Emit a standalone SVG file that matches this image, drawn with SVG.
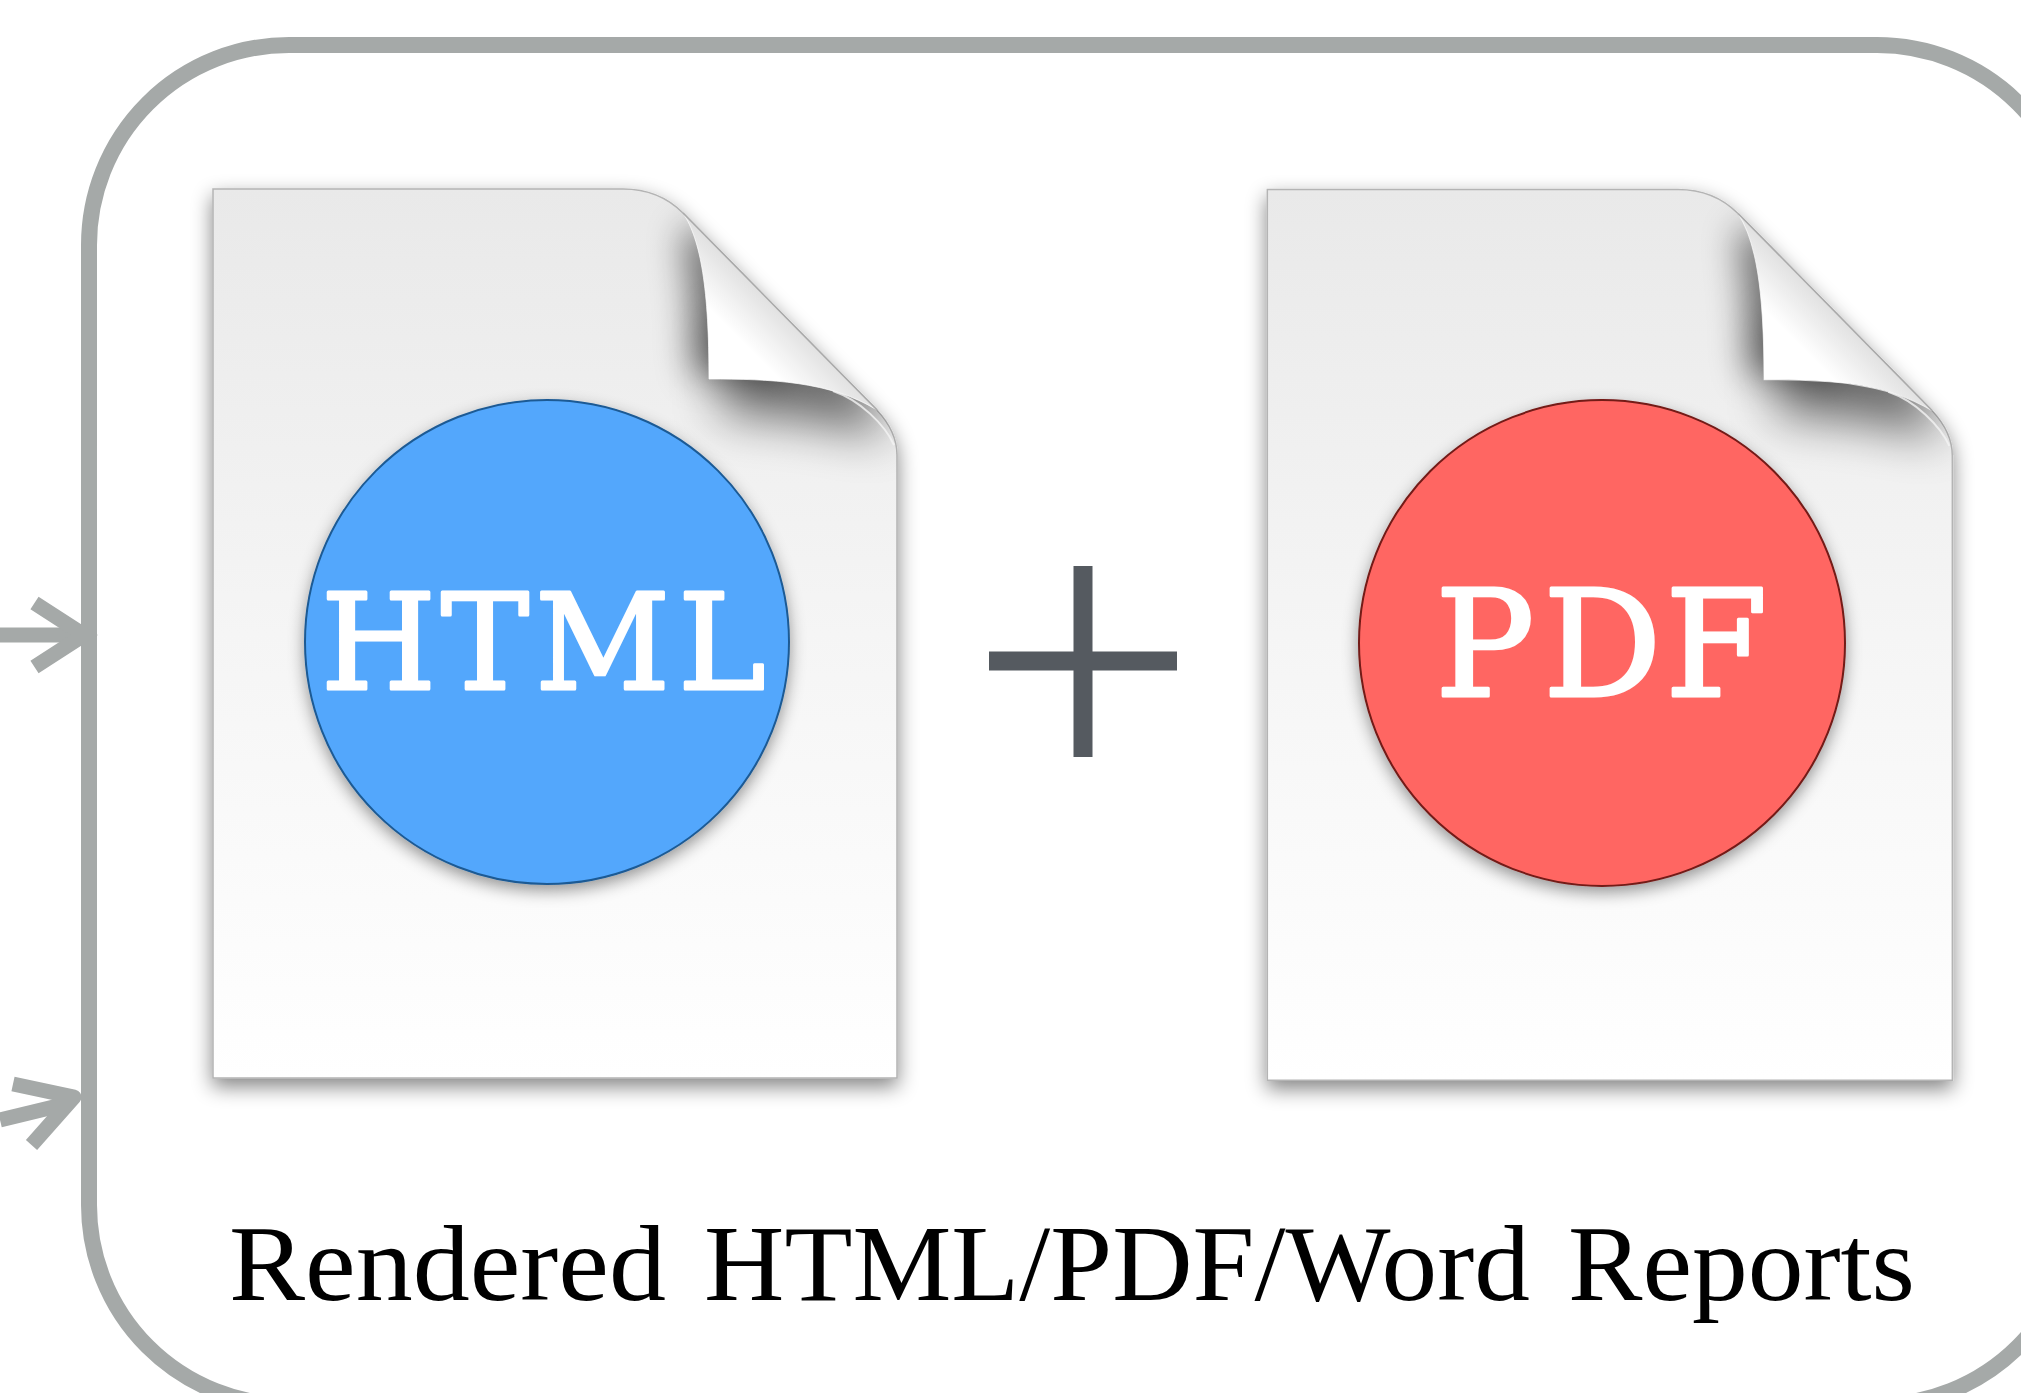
<svg xmlns="http://www.w3.org/2000/svg" xmlns:xlink="http://www.w3.org/1999/xlink" width="2021" height="1393" viewBox="0 0 2021 1393">
<style>
.edge{fill:none;stroke:#a5a9a8;stroke-width:15}
.frame{fill:none;stroke:#a5a9a8;stroke-width:16}
.badge{font-family:"DejaVu Serif","Liberation Serif",serif;fill:#fff;stroke:#fff;stroke-linejoin:round;text-anchor:start}
.caption{font-family:"Liberation Serif",serif;font-size:108px;fill:#000}
</style>
<defs>
<linearGradient id="paper" x1="0" y1="0" x2="0" y2="1">
<stop offset="0" stop-color="#e9e9e9"/><stop offset="0.5" stop-color="#f5f5f5"/><stop offset="1" stop-color="#fff"/>
</linearGradient>
<linearGradient id="flap" gradientUnits="userSpaceOnUse" x1="745" y1="345" x2="800" y2="290">
<stop offset="0" stop-color="#fff"/><stop offset="1" stop-color="#cfcfcf"/>
</linearGradient>
<filter id="pageShadow" x="-10%" y="-10%" width="120%" height="120%">
<feDropShadow dx="0" dy="8" stdDeviation="10" flood-color="#000" flood-opacity="0.48"/>
</filter>
<filter id="underBlur" filterUnits="userSpaceOnUse" x="550" y="100" width="500" height="500"><feGaussianBlur stdDeviation="24"/></filter>
<filter id="sideBlur" filterUnits="userSpaceOnUse" x="550" y="100" width="500" height="500"><feGaussianBlur stdDeviation="18"/></filter>
<filter id="discShadow" x="-10%" y="-10%" width="120%" height="120%">
<feDropShadow dx="0" dy="6" stdDeviation="8" flood-color="#000" flood-opacity="0.4"/>
</filter>
<clipPath id="pageClip"><path d="M213 189H623C650 189 668 198 683 213L877 410C890 424 897 438 897 455V1078H213Z"/></clipPath>
<g id="page">
<path d="M213 189H623C650 189 668 198 683 213L877 410C890 424 897 438 897 455V1078H213Z" fill="url(#paper)" stroke="#b4b4b4" stroke-width="1.5" filter="url(#pageShadow)"/>
<g clip-path="url(#pageClip)">
<path d="M682 230C690 270 693 320 693 375H790L715 230Z" fill="#000" opacity="0.55" filter="url(#sideBlur)"/>
<path d="M722 320H850L885 438C830 423 780 416 722 414Z" fill="#000" opacity="0.55" filter="url(#underBlur)"/>
</g>
<path d="M683 213C701 240 709 290 709 379C770 379 830 381 877 410Z" fill="url(#flap)"/>
<path d="M683 213C701 240 709 290 709 379C770 379 830 381 877 410" fill="none" stroke="#fff" stroke-width="1" opacity="0.7"/>
<path d="M833 391C860 400 885 425 894 445" fill="none" stroke="#f4f4f4" stroke-width="2" opacity="0.8"/>
<path d="M683 213L877 410" fill="none" stroke="#aaa" stroke-width="1.5"/>
</g>
</defs>
<rect width="2021" height="1393" fill="#fff"/>
<rect id="frame" class="frame" x="89" y="45" width="1988" height="1360" rx="200" ry="200"/>
<g id="connectors">
<path class="edge" stroke-width="16" d="M0 635H82"/>
<path class="edge" d="M34.5 603L84 635L34.5 667"/>
<path class="edge" d="M0 1120L66 1104"/>
<path class="edge" stroke-linejoin="round" d="M13 1084L74 1097L31.5 1145"/>
</g>
<g id="html-report">
<use href="#page" xlink:href="#page"/>
<circle cx="547" cy="642" r="242" fill="#52a7fc" stroke="#1c5a94" stroke-width="2" filter="url(#discShadow)"/>
<text class="badge" x="321 441 535 678" y="689" font-size="132" stroke-width="3">HTML</text>
</g>
<g id="plus"><path d="M989 661H1177M1083 566V757" fill="none" stroke="#555a60" stroke-width="19"/></g>
<g id="pdf-report">
<use href="#page" xlink:href="#page" transform="translate(1054 0) scale(1.0015 1.002)"/>
<circle cx="1602" cy="643" r="243" fill="#ff6662" stroke="#731a18" stroke-width="2" filter="url(#discShadow)"/>
<text class="badge" x="1435 1543 1665" y="696" font-size="148" stroke-width="3">PDF</text>
</g>
<g id="caption"><text class="caption" y="1300"><tspan x="229" textLength="437" lengthAdjust="spacingAndGlyphs">Rendered</tspan> <tspan x="704" textLength="826" lengthAdjust="spacingAndGlyphs">HTML/PDF/Word</tspan> <tspan x="1568" textLength="347" lengthAdjust="spacingAndGlyphs">Reports</tspan></text></g>
</svg>
